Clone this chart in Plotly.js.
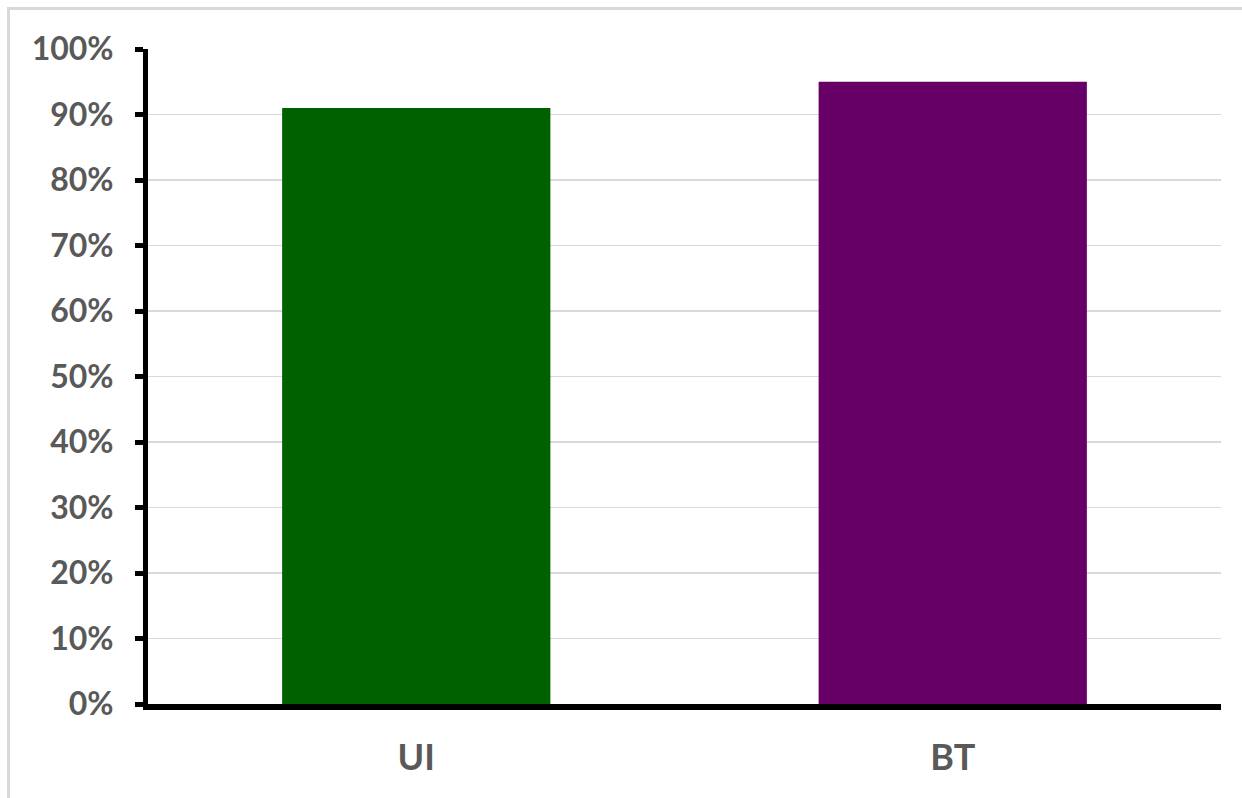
<!DOCTYPE html>
<html>
<head>
<meta charset="utf-8">
<script src="https://cdn.plot.ly/plotly-3.0.1.min.js"></script>
<style>
  html, body { margin: 0; padding: 0; background: #ffffff; }
  #wrap { position: relative; width: 1242px; height: 798px; overflow: hidden; }
  #chart { position: absolute; left: 0; top: 0; width: 1242px; height: 798px; }
  #frame { position: absolute; left: 7px; top: 7px; width: 1300px; height: 900px;
           border-top: 3px solid #d9d9d9; border-left: 3px solid #d9d9d9; pointer-events: none; }
</style>
</head>
<body>
<div id="wrap">
  <div id="chart"></div>
  <div id="frame"></div>
</div>
<script>
const categories = ["UI", "BT"];
const values = [0.91, 0.95];
const barColors = ["#006100", "#660066"];
const yTickValues = [0, 0.1, 0.2, 0.3, 0.4, 0.5, 0.6, 0.7, 0.8, 0.9, 1.0];
const yTickLabels = ["0%", "10%", "20%", "30%", "40%", "50%", "60%", "70%", "80%", "90%", "100%"];

const trace = {
  type: "bar",
  x: categories,
  y: values,
  marker: { color: barColors, line: { width: 0 } },
  hoverinfo: "none"
};

const layout = {
  width: 1242,
  height: 798,
  margin: { l: 148, r: 21, t: 49, b: 93.5, pad: 0 },
  paper_bgcolor: "rgba(0,0,0,0)",
  plot_bgcolor: "#ffffff",
  showlegend: false,
  bargap: 0.5,
  font: { family: "Lato, 'Open Sans', sans-serif", color: "#595959" },
  xaxis: {
    type: "category",
    showline: true,
    linecolor: "#000000",
    linewidth: 6,
    showgrid: false,
    zeroline: false,
    ticks: "",
    tickfont: { family: "Lato, sans-serif", size: 36, color: "#595959", weight: "bold" },
    ticklabelstandoff: 17
  },
  yaxis: {
    range: [0, 1],
    tickvals: yTickValues,
    ticktext: yTickLabels,
    showline: true,
    linecolor: "#000000",
    linewidth: 5,
    ticks: "outside",
    ticklen: 8,
    tickwidth: 5,
    tickcolor: "#000000",
    showgrid: true,
    gridcolor: "#d9d9d9",
    gridwidth: 1.5,
    zeroline: false,
    tickfont: { family: "Lato, sans-serif", size: 32, color: "#595959", weight: "bold" },
    ticklabelstandoff: 15
  }
};

Plotly.newPlot("chart", [trace], layout, { displayModeBar: false, staticPlot: true });
</script>
</body>
</html>
